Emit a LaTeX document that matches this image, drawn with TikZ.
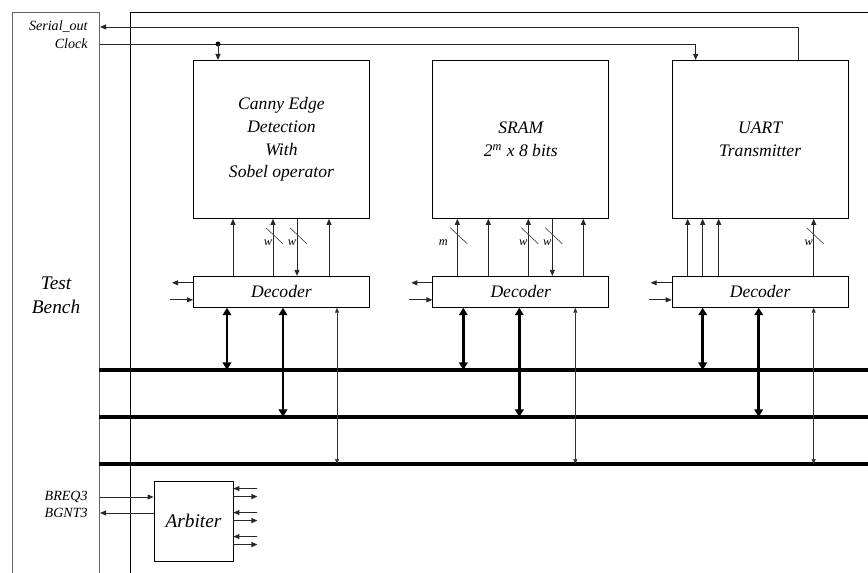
\documentclass[tikz,border=0pt]{standalone}
\usepackage{fontspec}
\setmainfont{Liberation Serif}
\usetikzlibrary{arrows.meta, positioning, calc}

% width mark on a bus line: node, x offset, label, label offset
\newcommand{\wslash}[4]{%
  \draw[line width=0.4pt, black!70] ($(#1.south west)+(#2-7,9)$) -- ++(17,16);
  \node[wlbl] at ($(#1.south west)+(#2+#4,24)$) {#3};
}

\begin{document}
\begin{tikzpicture}[
  x=0.02cm, y=-0.02cm,
  font=\itshape\fontsize{10}{13}\selectfont,
  >={Triangle[length=1.2mm, width=1mm]},
  block/.style={draw, line width=0.5pt, minimum width=3.52cm, minimum height=3.16cm,
                align=center, inner sep=2pt},
  decoder/.style={draw, line width=0.5pt, minimum width=3.52cm, minimum height=0.62cm,
                  inner sep=0pt},
  lbl/.style={font=\itshape\fontsize{8}{9}\selectfont, anchor=east, inner sep=0pt},
  wlbl/.style={font=\itshape\fontsize{7}{7}\selectfont, inner sep=0pt},
  sig/.style={->, line width=0.5pt, black!85},
  bus/.style={line width=2.3pt},
  busarr/.style={{Triangle[length=1.5mm, width=1.7mm]}-{Triangle[length=1.5mm, width=1.7mm]},
                 line width=1.4pt},
  busthin/.style={{Triangle[length=1mm, width=0.8mm]}-{Triangle[length=1mm, width=0.8mm]},
                  line width=0.4pt, black!80},
  ]
\useasboundingbox (0,0) rectangle (868,573);

% test bench and system frame
\node[draw=black!60, line width=0.6pt, minimum width=1.74cm, minimum height=11.32cm,
      anchor=north west, align=center, inner sep=0pt,
      font=\itshape\fontsize{11}{13.5}\selectfont] (tb) at (12,12) {Test\\Bench};
\draw[line width=0.45pt] (130,573) -- (130,12) -- (868,12);

% blocks
\node[block, anchor=north west] (canny) at (193,60) {Canny Edge\\Detection\\With\\Sobel operator};
\node[block, right=1.25cm of canny] (sram) {SRAM\\2\textsuperscript{m} x 8 bits};
\node[block, right=1.25cm of sram] (uart) {UART\\Transmitter};

\node[decoder, below=1.14cm of canny] (cdec) {Decoder};
\node[decoder, below=1.14cm of sram] (sdec) {Decoder};
\node[decoder, below=1.14cm of uart] (udec) {Decoder};

% decoder to block
\foreach \dx in {40,80,136}
  \draw[sig] ($(cdec.north west)+(\dx,0)$) -- ($(canny.south west)+(\dx,0)$);
\draw[sig] ($(canny.south west)+(104,0)$) -- ($(cdec.north west)+(104,0)$);
\wslash{canny}{80}{w}{-5}
\wslash{canny}{104}{w}{-5}

\foreach \dx in {25,56,96,151}
  \draw[sig] ($(sdec.north west)+(\dx,0)$) -- ($(sram.south west)+(\dx,0)$);
\draw[sig] ($(sram.south west)+(120,0)$) -- ($(sdec.north west)+(120,0)$);
\wslash{sram}{25}{m}{-14}
\wslash{sram}{96}{w}{-5}
\wslash{sram}{120}{w}{-5}

\foreach \dx in {16,31,47,142}
  \draw[sig] ($(udec.north west)+(\dx,0)$) -- ($(uart.south west)+(\dx,0)$);
\wslash{uart}{142}{w}{-5}

% decoder side signals
\foreach \d in {cdec,sdec,udec} {
  \draw[sig] ($(\d.north west)+(0,7)$) -- ++(-21,0);
  \draw[sig] ($(\d.north west)+(-23,24)$) -- ++(23,0);
}

% clock and serial out
\node[lbl] (so) at (88,27) {Serial\_out};
\node[lbl] (clk) at (88,44) {Clock};
\coordinate (sout) at ($(uart.north west)+(127,0)$);
\draw[sig] (sout) |- (tb.east |- so);
\coordinate (clkin) at ($(uart.north west)+(24,0)$);
\draw[sig] (tb.east |- clk) -| (clkin);
\coordinate (clkc) at ($(canny.north west)+(25,0)$);
\fill (clkc |- clk) circle[radius=1.4pt];
\draw[sig] (clkc |- clk) -- (clkc);

% buses
\coordinate (bus1) at (99,370);
\coordinate (bus2) at (99,417);
\coordinate (bus3) at (99,464);
\foreach \b in {bus1,bus2,bus3}
  \draw[bus] (\b) -- (\b -| 868,0);

\foreach \d/\a/\b/\c in {cdec/34/90/144, sdec/31/87/143, udec/31/87/142} {
  \coordinate (p1) at ($(\d.south west)+(\a,0)$);
  \coordinate (p2) at ($(\d.south west)+(\b,0)$);
  \coordinate (p3) at ($(\d.south west)+(\c,0)$);
  \draw[busarr] (p1) -- (p1 |- bus1);
  \draw[busarr] (p2) -- (p2 |- bus2);
  \draw[busthin] (p3) -- (p3 |- bus3);
}

% arbiter
\node[draw, line width=0.5pt, minimum width=1.58cm, minimum height=1.6cm,
      font=\itshape\fontsize{11}{13}\selectfont] (arb) at (193.5,521) {Arbiter};
\node[lbl] (breq) at (88,497) {BREQ3};
\node[lbl] (bgnt) at (88,513) {BGNT3};
\draw[sig] (tb.east |- breq) -- (arb.west |- breq);
\draw[sig] (arb.west |- bgnt) -- (tb.east |- bgnt);
\foreach \dy in {8,32,56} {
  \draw[sig] ($(arb.north east)+(24,\dy)$) -- ($(arb.north east)+(0,\dy)$);
  \draw[sig] ($(arb.north east)+(0,\dy+8)$) -- ($(arb.north east)+(24,\dy+8)$);
}
\end{tikzpicture}
\end{document}
